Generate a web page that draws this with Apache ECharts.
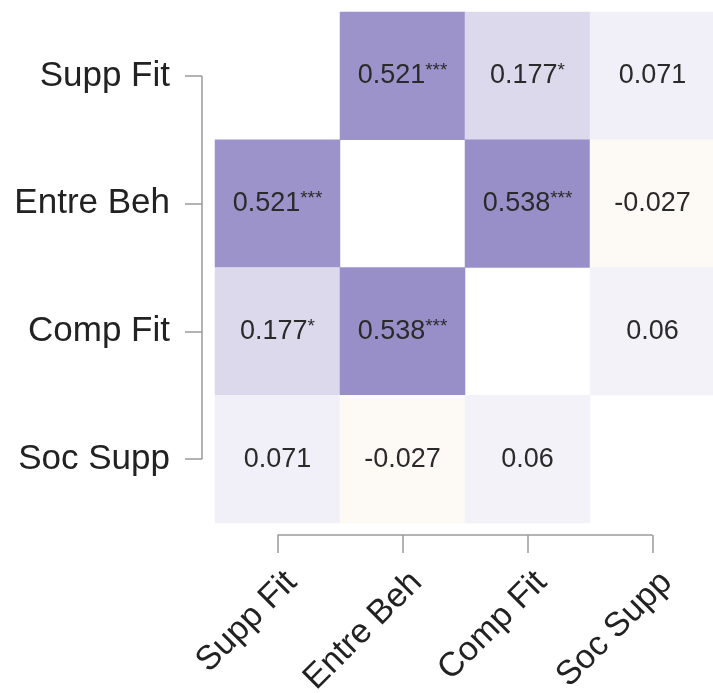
<!DOCTYPE html>
<html>
<head>
<meta charset="utf-8">
<script src="https://cdn.jsdelivr.net/npm/echarts@6/dist/echarts.min.js"></script>
<style>
html,body{margin:0;padding:0;background:#fff;}
#chart{width:713px;height:693px;}
</style>
</head>
<body>
<div id="chart"></div>
<script>
// Variables (same order on both axes)
const categories = ['Supp Fit', 'Entre Beh', 'Comp Fit', 'Soc Supp'];
// Correlation matrix (rows = y categories, cols = x categories); diagonal left blank
const corrRow0 = [null, 0.521, 0.177, 0.071];
const corrRow1 = [0.521, null, 0.538, -0.027];
const corrRow2 = [0.177, 0.538, null, 0.06];
const corrRow3 = [0.071, -0.027, 0.06, null];
const corrMatrix = [corrRow0, corrRow1, corrRow2, corrRow3];
// Significance stars per cell
const starRow0 = ['', '***', '*', ''];
const starRow1 = ['***', '', '***', ''];
const starRow2 = ['*', '***', '', ''];
const starRow3 = ['', '', '', ''];
const starMatrix = [starRow0, starRow1, starRow2, starRow3];

const data = [];
corrMatrix.forEach((row, i) => {
  row.forEach((v, j) => {
    if (v !== null) data.push({ value: [j, i, v], star: starMatrix[i][j] });
  });
});

const FONT = '"Liberation Sans", Arial, sans-serif';
const GRID = { left: 215, top: 12, width: 500, height: 511 };
const AXIS_GRAY = '#9a9a9a';

const chart = echarts.init(document.getElementById('chart'), null, { renderer: 'canvas' });
const option = {
  backgroundColor: '#ffffff',
  animation: false,
  grid: Object.assign({ containLabel: false, outerBoundsMode: 'none' }, GRID),
  xAxis: {
    type: 'category',
    data: categories,
    offset: 12,
    axisLine: { show: false },
    axisTick: { show: true, alignWithLabel: true, length: 18, lineStyle: { color: AXIS_GRAY, width: 1.5 } },
    axisLabel: { rotate: 45, margin: 28, fontSize: 34, color: '#222', fontFamily: FONT, interval: 0,
                 verticalAlign: 'top', padding: [3, 0, 0, 0] },
    splitLine: { show: false }
  },
  yAxis: {
    type: 'category',
    data: categories,
    inverse: true,
    offset: 13,
    axisLine: { show: false },
    axisTick: { show: true, alignWithLabel: true, length: 17, lineStyle: { color: AXIS_GRAY, width: 1.5 } },
    axisLabel: { margin: 32, fontSize: 35, color: '#222', fontFamily: FONT, interval: 0 },
    splitLine: { show: false }
  },
  visualMap: {
    show: false,
    type: 'continuous',
    min: -1,
    max: 1,
    dimension: 2,
    inRange: {
      color: ['#b35806', '#d27a28', '#e8a060', '#edc8a2', '#ffffff', '#cfcae5', '#a097cc', '#7164b2', '#542788']
    }
  },
  series: [{
    type: 'heatmap',
    data: data,
    itemStyle: { borderWidth: 0 },
    label: {
      show: true,
      fontSize: 27,
      fontFamily: FONT,
      color: '#2a2a2a',
      formatter: p => {
        const s = p.data.star;
        return s ? String(p.value[2]) + '{s|' + s + '}' : String(p.value[2]);
      },
      rich: { s: { fontSize: 19, verticalAlign: 'top', color: '#2a2a2a', fontFamily: FONT, padding: [0, 0, 10, 0] } }
    },
    emphasis: { disabled: true }
  }]
};
chart.setOption(option);

// Axis lines drawn only between first and last tick (base-graphics style)
const x0 = chart.convertToPixel({ xAxisIndex: 0 }, categories[0]);
const x1 = chart.convertToPixel({ xAxisIndex: 0 }, categories[categories.length - 1]);
const y0 = chart.convertToPixel({ yAxisIndex: 0 }, categories[0]);
const y1 = chart.convertToPixel({ yAxisIndex: 0 }, categories[categories.length - 1]);
const xLineY = GRID.top + GRID.height + 12;
const yLineX = GRID.left - 13;
chart.setOption({
  graphic: [
    { type: 'line', shape: { x1: x0, y1: xLineY, x2: x1, y2: xLineY }, style: { stroke: AXIS_GRAY, lineWidth: 1.5 }, silent: true },
    { type: 'line', shape: { x1: yLineX, y1: y0, x2: yLineX, y2: y1 }, style: { stroke: AXIS_GRAY, lineWidth: 1.5 }, silent: true }
  ]
});
</script>
</body>
</html>
